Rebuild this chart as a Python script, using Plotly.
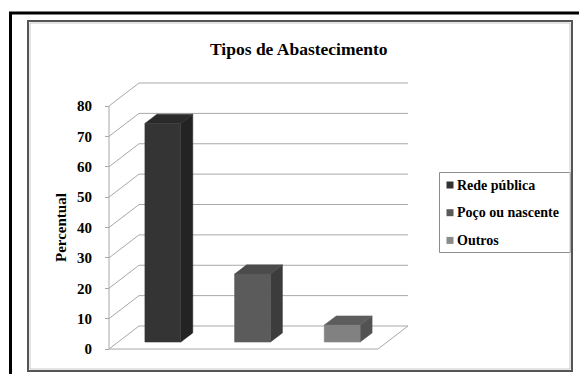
import plotly.graph_objects as go

# ---------------- data ----------------
categories = ["Rede pública", "Poço ou nascente", "Outros"]
values = [72.0, 22.4, 5.6]
y_ticks = [0, 10, 20, 30, 40, 50, 60, 70, 80]
title_text = "Tipos de Abastecimento"
y_title = "Percentual"

front_colors = ["#343434", "#5b5b5b", "#818181"]
side_colors = ["#232323", "#3c3c3c", "#525252"]
top_colors = ["#2a2a2a", "#4b4b4b", "#5d5d5d"]
legend_colors = ["#333333", "#5a5a5a", "#8a8a8a"]

# ---------------- layout geometry (pixels) ----------------
W, H = 579, 374
FLOOR_LEFT_PX, FLOOR_RIGHT_PX = 109, 378
FRONT_ZERO_PX, TOP_TICK_PX = 349, 106
DEPTH_DX_PX, DEPTH_DY_PX = 30, 23
BAR_W = 0.40           # in category units
BAR_F0, BAR_F1 = 0.30, 0.70   # bar front/back depth fractions

n = len(categories)
ymax = y_ticks[-1]
px_per_x = (FLOOR_RIGHT_PX - FLOOR_LEFT_PX) / n
px_per_y = (FRONT_ZERO_PX - TOP_TICK_PX) / ymax
x_range = [-0.5 - FLOOR_LEFT_PX / px_per_x, -0.5 + (W - FLOOR_LEFT_PX) / px_per_x]
y_range = [-(H - FRONT_ZERO_PX) / px_per_y, FRONT_ZERO_PX / px_per_y]
DX = DEPTH_DX_PX / px_per_x
DY = DEPTH_DY_PX / px_per_y

GRID = "#a8a8a8"
FONT = "Liberation Serif, Times New Roman, Times, serif"

fig = go.Figure()

# ---- walls / gridlines ----
gx, gy = [], []
xl, xr = -0.5, n - 0.5
for v in y_ticks:
    gx += [xl + DX, xr + DX, None]
    gy += [v + DY, v + DY, None]
    gx += [xl, xl + DX, None]
    gy += [v, v + DY, None]
gx += [xl, xr, xr + DX, None]
gy += [0, 0, DY, None]
gx += [xl, xl, None]
gy += [0, ymax, None]
fig.add_trace(go.Scatter(x=gx, y=gy, mode="lines",
                         line=dict(color=GRID, width=1),
                         hoverinfo="skip", showlegend=False))

# ---- 3D bars ----
ddx = (BAR_F1 - BAR_F0) * DX
ddy = (BAR_F1 - BAR_F0) * DY
for i, v in enumerate(values):
    x0 = i - BAR_W / 2 + BAR_F0 * DX
    x1 = x0 + BAR_W
    b = BAR_F0 * DY
    t = b + v
    fig.add_trace(go.Scatter(
        x=[x1, x1 + ddx, x1 + ddx, x1, x1],
        y=[b, b + ddy, t + ddy, t, b],
        fill="toself", fillcolor=side_colors[i], mode="lines",
        line=dict(color=side_colors[i], width=0.5),
        hoverinfo="skip", showlegend=False))
    fig.add_trace(go.Scatter(
        x=[x0, x0 + ddx, x1 + ddx, x1, x0],
        y=[t, t + ddy, t + ddy, t, t],
        fill="toself", fillcolor=top_colors[i], mode="lines",
        line=dict(color=top_colors[i], width=0.5),
        hoverinfo="skip", showlegend=False))
    fig.add_trace(go.Scatter(
        x=[x0, x1, x1, x0, x0],
        y=[b, b, t, t, b],
        fill="toself", fillcolor=front_colors[i], mode="lines",
        line=dict(color=front_colors[i], width=0.5),
        name=categories[i], hovertemplate=f"{categories[i]}: {v}<extra></extra>",
        showlegend=False))


def px(x):
    return x / W


def py(y):
    return 1 - y / H


shapes = []
annotations = []

shapes.append(dict(type="line", xref="paper", yref="paper",
                   x0=px(10.5), x1=px(10.5), y0=py(12), y1=py(H + 2),
                   line=dict(color="black", width=3)))
shapes.append(dict(type="line", xref="paper", yref="paper",
                   x0=px(9), x1=px(W + 2), y0=py(13), y1=py(13),
                   line=dict(color="black", width=3)))
shapes.append(dict(type="rect", xref="paper", yref="paper",
                   x0=px(28), x1=px(572), y0=py(21), y1=py(371),
                   line=dict(color="#555555", width=2)))
shapes.append(dict(type="rect", xref="paper", yref="paper",
                   x0=px(30), x1=px(570), y0=py(23), y1=py(369),
                   line=dict(color="#c8c8c8", width=1)))

LEG_L, LEG_T, LEG_R, LEG_B = 439.5, 172.5, 570.5, 252.5
shapes.append(dict(type="rect", xref="paper", yref="paper",
                   x0=px(LEG_L), x1=px(LEG_R), y0=py(LEG_T), y1=py(LEG_B),
                   line=dict(color="#8c8c8c", width=1), fillcolor="white",
                   layer="below"))
LEG_ROW0, LEG_STEP = 185, 27.7
for i, c in enumerate(categories):
    yc = LEG_ROW0 + i * LEG_STEP
    shapes.append(dict(type="rect", xref="paper", yref="paper",
                       x0=px(446.5), x1=px(453.5), y0=py(yc - 3.5), y1=py(yc + 3.5),
                       line=dict(width=0), fillcolor=legend_colors[i]))
    annotations.append(dict(text="<b>" + c + "</b>", xref="paper", yref="paper",
                            x=px(455), y=py(yc), xanchor="left", yanchor="middle",
                            showarrow=False,
                            font=dict(family=FONT, size=14, color="black")))

annotations.append(dict(text="<b>" + title_text + "</b>", xref="paper", yref="paper",
                        x=px(298.5), y=py(49.5), xanchor="center", yanchor="middle",
                        showarrow=False,
                        font=dict(family=FONT, size=17.5, color="black")))
annotations.append(dict(text="<b>" + y_title + "</b>", xref="paper", yref="paper",
                        x=px(61), y=py(228), xanchor="center", yanchor="middle",
                        textangle=-90, showarrow=False,
                        font=dict(family=FONT, size=15, color="black")))

fig.update_layout(
    width=W, height=H,
    margin=dict(l=0, r=0, t=0, b=0),
    paper_bgcolor="white", plot_bgcolor="white",
    showlegend=False,
    font=dict(family=FONT),
    shapes=shapes, annotations=annotations,
    xaxis=dict(range=x_range, visible=False, fixedrange=True, domain=[0, 1]),
    yaxis=dict(range=y_range, domain=[0, 1], anchor="free",
               position=FLOOR_LEFT_PX / W,
               tickvals=y_ticks, ticktext=["<b>%d</b>" % t for t in y_ticks],
               ticks="outside", ticklen=4, tickcolor=GRID, tickwidth=1,
               showgrid=False, zeroline=False, showline=False,
               ticklabelstandoff=10,
               tickfont=dict(family=FONT, size=15, color="black"),
               fixedrange=True),
)

fig.write_html("out.html")
